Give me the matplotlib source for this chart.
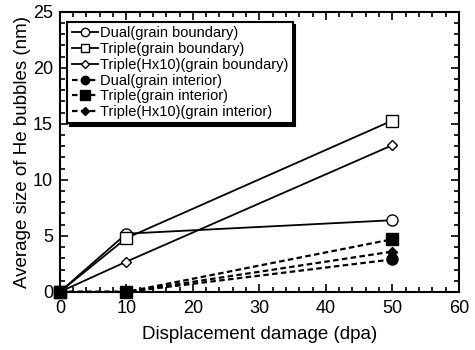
import matplotlib
matplotlib.use('Agg')
import matplotlib.pyplot as plt
from matplotlib.ticker import MultipleLocator

plt.rcParams['font.family'] = ['Liberation Sans', 'DejaVu Sans']

dpa = [0, 10, 50]
dual_gb = [0, 5.2, 6.4]
triple_gb = [0, 4.8, 15.3]
triple_h_gb = [0, 2.7, 13.1]
dual_gi = [0, 0, 2.9]
triple_gi = [0, 0, 4.7]
triple_h_gi = [0, 0, 3.6]

labels = ['Dual(grain boundary)', 'Triple(grain boundary)', 'Triple(Hx10)(grain boundary)',
          'Dual(grain interior)', 'Triple(grain interior)', 'Triple(Hx10)(grain interior)']

fig = plt.figure(figsize=(4.75, 3.5), dpi=100)
ax = fig.add_axes([0.126, 0.166, 0.84, 0.80])

# solid lines, open markers (grain boundary)
ax.plot(dpa, dual_gb, 'k-', marker='o', mfc='white', ms=8, lw=1.3, clip_on=False, label=labels[0])
ax.plot(dpa, triple_gb, 'k-', marker='s', mfc='white', ms=8, lw=1.3, clip_on=False, label=labels[1])
ax.plot(dpa, triple_h_gb, 'k-', marker='D', mfc='white', ms=5.5, lw=1.3, clip_on=False, label=labels[2])
# dashed lines, filled markers (grain interior)
ax.plot(dpa, dual_gi, 'k--', marker='o', mfc='black', ms=8, lw=1.6, dashes=(2.5, 1.5), clip_on=False, label=labels[3])
ax.plot(dpa, triple_gi, 'k--', marker='s', mfc='black', ms=9, lw=1.6, dashes=(2.5, 1.5), clip_on=False,
        zorder=5, label=labels[4])
ax.plot(dpa, triple_h_gi, 'k--', marker='D', mfc='black', ms=5.5, lw=1.6, dashes=(2.5, 1.5), clip_on=False, label=labels[5])

ax.set_xlim(0, 60)
ax.set_ylim(0, 25)
ax.xaxis.set_major_locator(MultipleLocator(10))
ax.xaxis.set_minor_locator(MultipleLocator(2))
ax.yaxis.set_major_locator(MultipleLocator(5))
ax.yaxis.set_minor_locator(MultipleLocator(1))
ax.tick_params(which='both', direction='in', top=True, right=True, labelsize=13, width=1.2)
ax.tick_params(which='major', length=6)
ax.tick_params(which='minor', length=3.5)
ax.tick_params(axis='x', pad=6)
ax.tick_params(axis='y', pad=5)
for sp in ax.spines.values():
    sp.set_linewidth(1.5)

ax.set_xlabel('Displacement damage (dpa)', fontsize=13.5, labelpad=6)
ax.set_ylabel('Average size of He bubbles (nm)', fontsize=13.5, labelpad=1)

leg = ax.legend(loc='upper left', bbox_to_anchor=(0.0, 0.99), fontsize=10.5, frameon=True,
                fancybox=False, shadow={'color': 'black', 'alpha': 1}, handlelength=1.85,
                handletextpad=0.1, borderpad=0.3, labelspacing=0.12, borderaxespad=0.5,
                markerscale=0.75)
leg.get_frame().set_edgecolor('black')
leg.get_frame().set_linewidth(1.5)

plt.savefig('out.png', dpi=100)
